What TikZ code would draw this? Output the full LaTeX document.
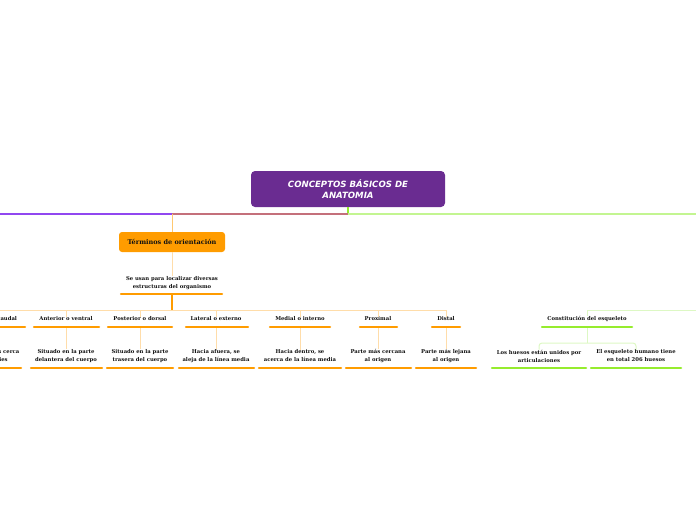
\documentclass[tikz,border=0pt]{standalone}
\usepackage{fontspec}
\setmainfont{DejaVu Serif}
\newfontfamily\titlefont{DejaVu Sans}
\definecolor{purp}{HTML}{6A2C91}
\definecolor{purpline}{HTML}{9147F0}
\definecolor{redline}{HTML}{C4707B}
\definecolor{grn}{HTML}{96EC2E}
\definecolor{grnline}{HTML}{C3F591}
\definecolor{grnpale}{HTML}{DDF8C4}
\definecolor{orng}{HTML}{FF9C00}
\definecolor{orngline}{HTML}{FFC870}
\definecolor{orngpale}{HTML}{FFDDAA}
\definecolor{ink}{HTML}{111111}
\tikzset{
  lbl/.style={font=\bfseries\fontsize{5.3}{8}\selectfont, align=center, inner sep=0pt, text=ink},
  rootbox/.style={rounded corners=4pt, fill=purp, minimum width=194pt, minimum height=36pt,
    text=white, font=\titlefont\bfseries\itshape\fontsize{8.6}{11}\selectfont, align=center, inner sep=0pt},
  termbox/.style={rounded corners=3pt, fill=orng, minimum width=106pt, minimum height=20pt,
    text=ink, font=\bfseries\fontsize{6.5}{8}\selectfont, inner sep=0pt},
  uline/.style={line width=2.5pt, line cap=round, draw=orng},
  gline/.style={line width=2.5pt, line cap=round, draw=grn},
  thin/.style={line width=1pt},
}
\begin{document}
\begin{tikzpicture}[x=1pt,y=-1pt]
\useasboundingbox (0,0) rectangle (696,520);
% root
\node[rootbox] (root) at (348,189) {CONCEPTOS BÁSICOS DE\\ANATOMIA};
\coordinate (j0) at (348,214);
\coordinate (jL) at (0,214);
\coordinate (jT) at (172,214);
\coordinate (jR) at (696,214);
\draw[grn, line width=1.5pt] (root.south) -- (j0);
\draw[redline, line width=1.8pt] (j0) -- (jT);
\draw[purpline, line width=1.8pt] (jT) -- (jL);
\draw[grnline, line width=1.8pt] (j0) -- (jR);
% terminos
\node[termbox] (term) at (172,242) {Términos de orientación};
\draw[orngline, thin] (jT) -- (term.north);
\node[lbl] (termd) at (172,283) {Se usan para localizar diversas\\estructuras del organismo};
\draw[orngpale, thin] (term.south) -- (termd.north);
\coordinate (tuL) at (121,294);
\coordinate (tuR) at (222,294);
\draw[uline] (tuL) -- (tuR);
\coordinate (tu) at (172,294);
\coordinate (bus) at (172,310);
\coordinate (busL) at (0,310);
\coordinate (busR) at (446,310);
\draw[orng, line width=1.5pt] (tu) -- (bus);
\draw[orngpale, thin] (busL) -- (busR);
\foreach \x/\n/\t/\d/\a/\b/\c/\e in {
  -8/c1/{Inferior o caudal}/{Situado más cerca\\de los pies}/-38/25/-42/21,
  66/c2/{Anterior o ventral}/{Situado en la parte\\delantera del cuerpo}/34/99/31/102,
  140/c3/{Posterior o dorsal}/{Situado en la parte\\trasera del cuerpo}/108/172/107/173,
  216/c4/{Lateral o externo}/{Hacia afuera, se\\aleja de la línea media}/186/248/179/254,
  300/c5/{Medial o interno}/{Hacia dentro, se\\acerca de la línea media}/270/330/259/341,
  378/c6/{Proximal}/{Parte más cercana\\al origen}/360/397/346/411,
  446/c7/{Distal}/{Parte más lejana\\al origen}/432/460/416/476}{
  \node[lbl] (\n) at (\x,319) {\t};
  \node[lbl] (\n d) at (\x,356) {\d};
  \coordinate (\n b) at (\x,310);
  \coordinate (\n u) at (\x,328);
  \coordinate (\n ul) at (\a,327);
  \coordinate (\n ur) at (\b,327);
  \coordinate (\n dl) at (\c,368);
  \coordinate (\n dr) at (\e,368);
  \draw[orngpale, thin] (\n b) -- (\n.north);
  \draw[orngpale, thin] (\n u) -- (\n d.north);
  \draw[uline] (\n ul) -- (\n ur);
  \draw[uline] (\n dl) -- (\n dr);
}
% esqueleto
\coordinate (gbus) at (587,310);
\coordinate (gR) at (696,310);
\node[lbl] (k1) at (587,319) {Constitución del esqueleto};
\draw[grnpale, thin] (gR) -- (gbus) -- (k1.north);
\coordinate (k1l) at (542,327);
\coordinate (k1r) at (632,327);
\draw[gline] (k1l) -- (k1r);
\coordinate (k1u) at (587,328);
\coordinate (kmid) at (587,343);
\node[lbl] (k2) at (539,356) {Los huesos están unidos por\\articulaciones};
\node[lbl] (k3) at (636,356) {El esqueleto humano tiene\\en total 206 huesos};
\draw[grnpale, thin] (k1u) -- (kmid);
\draw[grnpale, thin, rounded corners=3pt] (k2.north) |- (kmid) -| (k3.north);
\coordinate (k2l) at (492,368);
\coordinate (k2r) at (586,368);
\coordinate (k3l) at (591,368);
\coordinate (k3r) at (681,368);
\draw[gline] (k2l) -- (k2r);
\draw[gline] (k3l) -- (k3r);
\end{tikzpicture}
\end{document}
